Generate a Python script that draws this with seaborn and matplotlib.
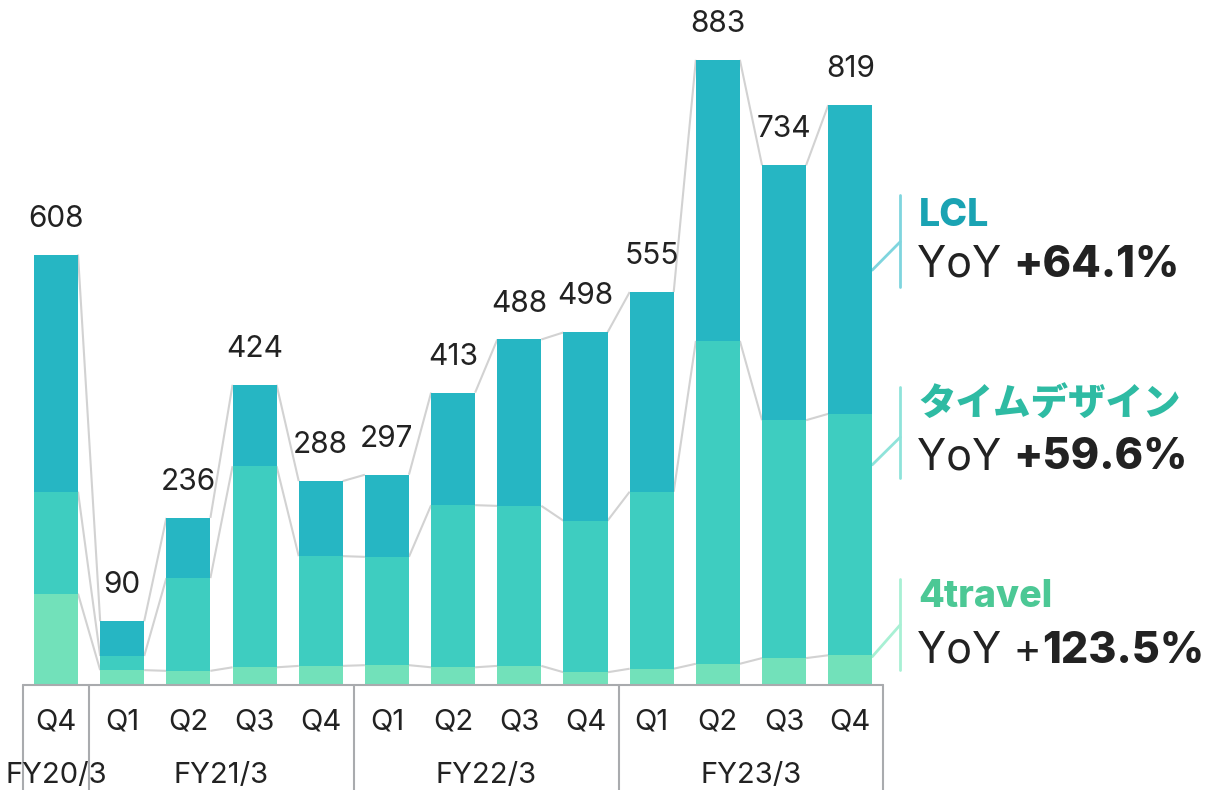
import matplotlib
matplotlib.use("Agg")
import matplotlib.pyplot as plt
import seaborn as sns
import pandas as pd
import numpy as np

# quarterly values (stacked: 4travel / タイムデザイン / LCL)
quarters = ["Q4", "Q1", "Q2", "Q3", "Q4", "Q1", "Q2", "Q3", "Q4", "Q1", "Q2", "Q3", "Q4"]
fiscal_years = ["FY20/3", "FY21/3", "FY21/3", "FY21/3", "FY21/3",
                "FY22/3", "FY22/3", "FY22/3", "FY22/3",
                "FY23/3", "FY23/3", "FY23/3", "FY23/3"]
travel4 = [129, 21, 20, 25, 27, 28, 25, 27, 18, 23, 30, 38, 42]
time_design = [144, 20, 131, 284, 155, 153, 229, 226, 214, 250, 456, 336, 341]
totals = [608, 90, 236, 424, 288, 297, 413, 488, 498, 555, 883, 734, 819]

series_names = ["LCL", "タイムデザイン", "4travel"]
yoy_prefix = ["YoY ", "YoY ", "YoY +"]
yoy_bold = ["+64.1%", "+59.6%", "123.5%"]

c_lcl = "#26b6c3"
c_td = "#3ecdc0"
c_4t = "#72e1ba"
name_colors = ["#1aa3b3", "#2ebba3", "#4cc895"]
link_colors = ["#7fd5de", "#8fe3da", "#a8f0d4"]

sns.set_theme(style="white")
plt.rcParams["font.family"] = ["Inter", "Noto Sans CJK JP", "DejaVu Sans"]

keys = [f"{fy} {q}" for fy, q in zip(fiscal_years, quarters)]
df = pd.DataFrame({
    "key": keys,
    "total": totals,
    "mid": np.array(travel4) + np.array(time_design),
    "bottom": travel4,
})

fig = plt.figure(figsize=(12.07, 7.9), dpi=100)
ax = fig.add_axes([0, 0, 1, 1])

w = 0.665
for col, c in [("total", c_lcl), ("mid", c_td), ("bottom", c_4t)]:
    sns.barplot(data=df, x="key", y=col, color=c, width=w, saturation=1,
                linewidth=0, ax=ax, zorder=2)

n = len(keys)
# connector lines between neighbouring bars
for level in [df["total"].values, df["mid"].values, df["bottom"].values]:
    for i in range(n - 1):
        ax.plot([i + w / 2, i + 1 - w / 2], [level[i], level[i + 1]],
                color="#d2d2d2", lw=1.5, zorder=1, solid_capstyle="butt")

# value labels
for i, t in enumerate(totals):
    ax.text(i, t + 31, str(t), ha="center", va="bottom", fontsize=21.5, color="#222222")

# category axis drawn as a table
line_c = "#a9abae"
ax.plot([-0.5, n - 0.5], [0, 0], color=line_c, lw=1.5, zorder=3, clip_on=False)
for xb in [-0.5, 0.5, 4.5, 8.5, n - 0.5]:
    ax.plot([xb, xb], [0, -160], color=line_c, lw=1.5, zorder=3)
for i, q in enumerate(quarters):
    ax.text(i, -52, q, ha="center", va="center", fontsize=21, color="#222222")
groups = {}
for i, fy in enumerate(fiscal_years):
    groups.setdefault(fy, []).append(i)
for fy, idx in groups.items():
    ax.text(np.mean(idx), -128, fy, ha="center", va="center", fontsize=21, color="#222222")

# right-hand annotations
x_edge = n - 1 + w / 2
x_vline = 12.755
x_text = 13.03
anchors = [
    # (diag start, diag end, vline bottom, vline top, name y, yoy y)
    (586, 626, 562, 692, 662, 593),
    (311, 350, 292, 421, 395, 321),
    (40, 85, 21, 150, 124, 48),
]
for k, (d0, d1, v0, v1, ny, yy) in enumerate(anchors):
    ax.plot([x_edge, x_vline], [d0, d1], color=link_colors[k], lw=2, zorder=1)
    ax.plot([x_vline, x_vline], [v0, v1], color=link_colors[k], lw=2, zorder=1)
    ax.text(x_text, ny, series_names[k], ha="left", va="center", fontsize=27,
            fontweight="heavy", color=name_colors[k])
    t1 = ax.text(x_text - 0.02, yy, yoy_prefix[k], ha="left", va="center", fontsize=31,
                 color="#222222")
    ax.annotate(yoy_bold[k], xy=(1, 0), xycoords=t1, ha="left", va="bottom",
                fontsize=31, fontweight="heavy", color="#222222")

ax.set_xlim(-0.846, 17.39)
ax.set_ylim(-148.3, 967.5)
ax.axis("off")

fig.savefig("out.png", dpi=100)
